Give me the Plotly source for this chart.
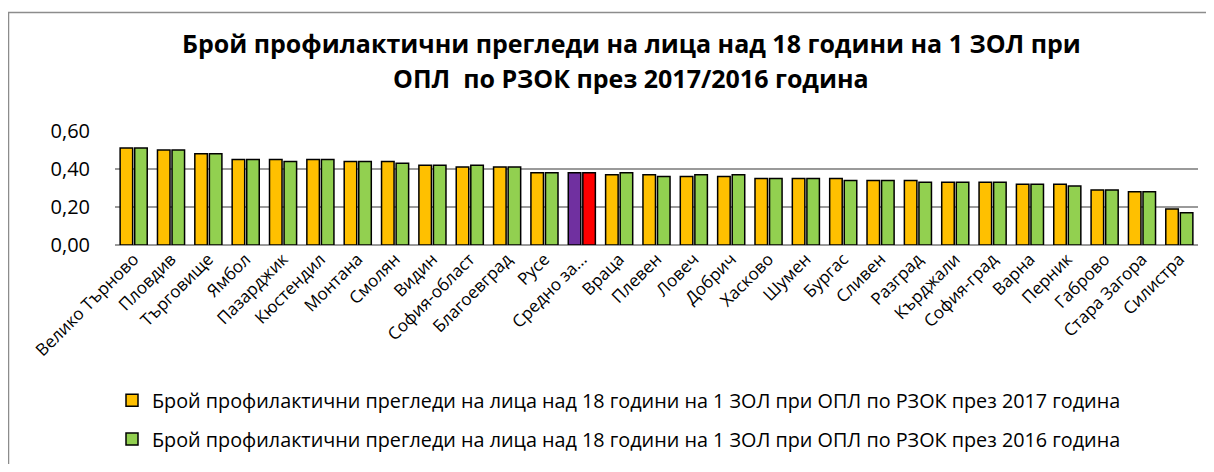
import plotly.graph_objects as go

categories = ["Велико Търново", "Пловдив", "Търговище", "Ямбол", "Пазарджик", "Кюстендил",
              "Монтана", "Смолян", "Видин", "София-област", "Благоевград", "Русе",
              "Средно за...", "Враца", "Плевен", "Ловеч", "Добрич", "Хасково", "Шумен",
              "Бургас", "Сливен", "Разград", "Кърджали", "София-град", "Варна", "Перник",
              "Габрово", "Стара Загора", "Силистра"]

values_2017 = [0.51, 0.50, 0.48, 0.45, 0.45, 0.45, 0.44, 0.44, 0.42, 0.41, 0.41, 0.38,
               0.38, 0.37, 0.37, 0.36, 0.36, 0.35, 0.35, 0.35, 0.34, 0.34, 0.33, 0.33,
               0.32, 0.32, 0.29, 0.28, 0.19]
values_2016 = [0.51, 0.50, 0.48, 0.45, 0.44, 0.45, 0.44, 0.43, 0.42, 0.42, 0.41, 0.38,
               0.38, 0.38, 0.36, 0.37, 0.37, 0.35, 0.35, 0.34, 0.34, 0.33, 0.33, 0.33,
               0.32, 0.31, 0.29, 0.28, 0.17]

y_ticks = [0.0, 0.2, 0.4, 0.6]
y_tick_labels = ["0,00", "0,20", "0,40", "0,60"]

name_2017 = "Брой профилактични прегледи на лица над 18 години на 1 ЗОЛ при ОПЛ по РЗОК през 2017 година"
name_2016 = "Брой профилактични прегледи на лица над 18 години на 1 ЗОЛ при ОПЛ по РЗОК през 2016 година"
title_line1 = "Брой профилактични прегледи на лица над 18 години на 1 ЗОЛ при"
title_line2 = "ОПЛ  по РЗОК през 2017/2016 година"

avg_label = "Средно за..."
col_2017 = ["#7030A0" if c == avg_label else "#FFC000" for c in categories]
col_2016 = ["#FF0000" if c == avg_label else "#92D050" for c in categories]

FONT = "Open Sans"

fig = go.Figure()
fig.add_trace(go.Bar(x=categories, y=values_2017, name=name_2017, legendgroup="a",
                     marker=dict(color=col_2017, line=dict(color="black", width=1.5))))
fig.add_trace(go.Bar(x=categories, y=values_2016, name=name_2016, legendgroup="b",
                     marker=dict(color=col_2016, line=dict(color="black", width=1.5))))

# page body has an 8px margin; all positions below are in screen pixels
OFF = 8
W, H = 1214 - 2 * OFF, 472 - 2 * OFF
SX0, SX1, SY0, SY1 = 115, 1198, 131, 245  # plot area on screen
L = SX0 - OFF
R = W - (SX1 - OFF)
T = SY0 - OFF
B = H - (SY1 - OFF)
pw = SX1 - SX0
ph = SY1 - SY0

def px_x(x):
    return (x - SX0) / pw

def px_y(y):
    return (SY1 - y) / ph

fig.update_layout(
    width=W, height=H,
    margin=dict(l=L, r=R, t=T, b=B, autoexpand=False),
    paper_bgcolor="white", plot_bgcolor="white",
    barmode="group", bargap=0.22, bargroupgap=0.14,
    font=dict(family=FONT, color="black"),
    showlegend=True,
    legend=dict(x=px_x(112), y=px_y(381), xanchor="left", yanchor="top",
                font=dict(size=19.8, family=FONT), tracegroupgap=10,
                bgcolor="rgba(0,0,0,0)"),
    xaxis=dict(tickangle=-45, tickfont=dict(size=17, family=FONT), automargin=False,
               showgrid=False, showline=False, ticks="", zeroline=False),
    yaxis=dict(range=[0, 0.6], tickvals=y_ticks, ticktext=y_tick_labels, automargin=False,
               tickfont=dict(size=20, family=FONT), showgrid=True,
               gridcolor="#9A9A9A", gridwidth=1.5, zeroline=True,
               zerolinecolor="#9A9A9A", zerolinewidth=1.5, showline=False,
               ticks="", ticklabelstandoff=24),
    annotations=[
        dict(text="<b>" + title_line1 + "</b>", xref="paper", yref="paper",
             x=px_x(631), y=px_y(43), xanchor="center", yanchor="middle",
             showarrow=False, font=dict(size=25, family=FONT)),
        dict(text="<b>" + title_line2 + "</b>", xref="paper", yref="paper",
             x=px_x(631), y=px_y(78), xanchor="center", yanchor="middle",
             showarrow=False, font=dict(size=25, family=FONT)),
    ],
    shapes=[dict(type="rect", xref="paper", yref="paper",
                 x0=px_x(8.5), x1=px_x(1240), y0=px_y(500), y1=px_y(12.5),
                 line=dict(color="#8C8C8C", width=1.5), layer="below")],
)

fig.write_html("out.html")
